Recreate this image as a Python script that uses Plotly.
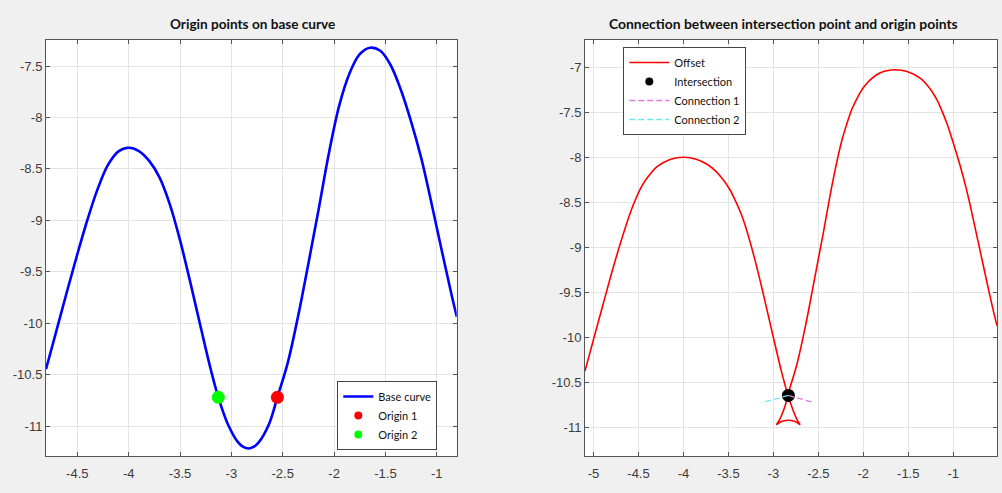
import plotly.graph_objects as go

# ---- base curve samples ----
base_x = [-4.805, -4.7, -4.6, -4.5, -4.4, -4.3, -4.2, -4.1, -4.0, -3.9, -3.8, -3.7,
          -3.6, -3.5, -3.4, -3.3, -3.2, -3.127, -3.034, -2.934, -2.884, -2.834,
          -2.784, -2.734, -2.634, -2.552, -2.45, -2.35, -2.25, -2.15, -2.05, -1.95,
          -1.85, -1.75, -1.649, -1.55, -1.45, -1.35, -1.25, -1.15, -1.05, -0.95,
          -0.85, -0.805]
base_y = [-10.447, -10.059, -9.689, -9.329, -8.989, -8.689, -8.459, -8.329, -8.294,
          -8.326, -8.422, -8.582, -8.842, -9.192, -9.602, -10.032, -10.452, -10.72,
          -10.981, -11.158, -11.202, -11.217, -11.202, -11.158, -10.981, -10.72,
          -10.38, -9.929, -9.418, -8.892, -8.345, -7.884, -7.572, -7.385, -7.322,
          -7.352, -7.49, -7.73, -8.04, -8.40, -8.84, -9.30, -9.75, -9.937]

# ---- origin points on the base curve ----
origin1 = (-2.552, -10.72)
origin2 = (-3.127, -10.72)

# ---- offset curve, in three pieces split at the swallowtail cusps ----
offA_x = [-5.095, -4.990, -4.889, -4.789, -4.686, -4.581, -4.525, -4.462, -4.388,
          -4.290, -4.149, -4.000, -3.858, -3.738, -3.642, -3.564, -3.490, -3.427,
          -3.369, -3.315, -3.210, -3.108, -3.008, -2.909, -2.838, -2.797, -2.758,
          -2.723, -2.703]
offA_y = [-10.369, -9.981, -9.610, -9.247, -8.900, -8.583, -8.445, -8.313, -8.204,
          -8.097, -8.019, -7.994, -8.016, -8.073, -8.149, -8.237, -8.345, -8.468,
          -8.598, -8.748, -9.116, -9.532, -9.963, -10.379, -10.638, -10.762, -10.864,
          -10.936, -10.966]
offB_x = [-2.703, -2.732, -2.774, -2.834, -2.894, -2.936, -2.965]
offB_y = [-10.966, -10.944, -10.925, -10.917, -10.925, -10.944, -10.966]
offC_x = [-2.965, -2.945, -2.910, -2.871, -2.839, -2.741, -2.643, -2.545, -2.445,
          -2.344, -2.240, -2.185, -2.128, -2.065, -1.984, -1.860, -1.767, -1.649,
          -1.514, -1.360, -1.257, -1.185, -1.123, -1.067, -1.014, -0.963, -0.911,
          -0.859, -0.808, -0.757, -0.707, -0.657, -0.607, -0.558, -0.513]
offC_y = [-10.966, -10.936, -10.864, -10.762, -10.633, -10.305, -9.868, -9.361, -8.837,
          -8.287, -7.815, -7.630, -7.465, -7.331, -7.200, -7.084, -7.040, -7.022,
          -7.041, -7.120, -7.234, -7.350, -7.485, -7.629, -7.788, -7.953, -8.130,
          -8.327, -8.543, -8.776, -9.006, -9.236, -9.465, -9.682, -9.867]

intersection = (-2.833, -10.641)

# ---- ticks ----
left_xticks = [-4.5, -4, -3.5, -3, -2.5, -2, -1.5, -1]
left_xlabels = ["-4.5", "-4", "-3.5", "-3", "-2.5", "-2", "-1.5", "-1"]
left_yticks = [-11, -10.5, -10, -9.5, -9, -8.5, -8, -7.5]
left_ylabels = ["-11", "-10.5", "-10", "-9.5", "-9", "-8.5", "-8", "-7.5"]
right_xticks = [-5, -4.5, -4, -3.5, -3, -2.5, -2, -1.5, -1]
right_xlabels = ["-5", "-4.5", "-4", "-3.5", "-3", "-2.5", "-2", "-1.5", "-1"]
right_yticks = [-11, -10.5, -10, -9.5, -9, -8.5, -8, -7.5, -7]
right_ylabels = ["-11", "-10.5", "-10", "-9.5", "-9", "-8.5", "-8", "-7.5", "-7"]

TXT = "Lato"
TICKFONT = dict(family="Liberation Sans, Arial", size=13, color="#3c3c3c")
AXCOL = "#555555"
GRIDCOL = "#e3e3e3"
BLUE, RED, GREEN, BLACK = "#0000ff", "#ff0000", "#00ff00", "#000000"
MAG, CYAN = "#e07ae0", "#70e4ee"
DASH = "6px,3px"

fig = go.Figure()

# ---- left panel ----
fig.add_trace(go.Scatter(x=base_x, y=base_y, mode="lines", name="Base curve",
                         line=dict(color=BLUE, width=2.6, shape="spline", smoothing=1),
                         xaxis="x", yaxis="y", legend="legend"))
fig.add_trace(go.Scatter(x=[origin1[0]], y=[origin1[1]], mode="markers", name="Origin 1",
                         marker=dict(color=RED, size=13), showlegend=False,
                         xaxis="x", yaxis="y"))
fig.add_trace(go.Scatter(x=[origin2[0]], y=[origin2[1]], mode="markers", name="Origin 2",
                         marker=dict(color=GREEN, size=13), showlegend=False,
                         xaxis="x", yaxis="y"))
# legend keys with smaller symbols
for nm, col in (("Origin 1", RED), ("Origin 2", GREEN)):
    fig.add_trace(go.Scatter(x=[None], y=[None], mode="markers", name=nm,
                             marker=dict(color=col, size=8),
                             xaxis="x", yaxis="y", legend="legend"))

# ---- right panel ----
red_line = dict(color=RED, width=1.6, shape="spline", smoothing=1)
for i, (ox, oy) in enumerate(((offA_x, offA_y), (offB_x, offB_y), (offC_x, offC_y))):
    fig.add_trace(go.Scatter(x=ox, y=oy, mode="lines", name="Offset", line=red_line,
                             xaxis="x2", yaxis="y2", legend="legend2", legendgroup="off",
                             showlegend=(i == 0)))
fig.add_trace(go.Scatter(x=[intersection[0]], y=[intersection[1]], mode="markers",
                         name="Intersection", marker=dict(color=BLACK, size=13),
                         showlegend=False, xaxis="x2", yaxis="y2"))
fig.add_trace(go.Scatter(x=[None], y=[None], mode="markers", name="Intersection",
                         marker=dict(color=BLACK, size=8),
                         xaxis="x2", yaxis="y2", legend="legend2"))
fig.add_trace(go.Scatter(x=[intersection[0], origin1[0]], y=[intersection[1], origin1[1]],
                         mode="lines", name="Connection 1",
                         line=dict(color=MAG, width=1.3, dash=DASH),
                         xaxis="x2", yaxis="y2", legend="legend2"))
fig.add_trace(go.Scatter(x=[intersection[0], origin2[0]], y=[intersection[1], origin2[1]],
                         mode="lines", name="Connection 2",
                         line=dict(color=CYAN, width=1.3, dash=DASH),
                         xaxis="x2", yaxis="y2", legend="legend2"))


def axis_style(domain, rng, tickvals, ticktext, anchor, standoff):
    return dict(domain=domain, range=rng, tickvals=tickvals, ticktext=ticktext,
                anchor=anchor, showline=True, linecolor=AXCOL, linewidth=1,
                mirror="allticks", ticks="inside", ticklen=4, tickcolor=AXCOL,
                showgrid=True, gridcolor=GRIDCOL, gridwidth=1, zeroline=False,
                tickfont=TICKFONT, ticklabelstandoff=standoff)


W, H = 1002, 493
ML, MR, MT, MB = 46, 5, 40, 37
pw = W - ML - MR
ph = H - MT - MB


def px_x(p):
    return (p - ML) / pw


def px_y(p):
    return (H - MB - p) / ph


legend_common = dict(xanchor="left", bgcolor="#ffffff", bordercolor="#444444",
                     borderwidth=1, font=dict(family=TXT, size=11, color="#111111"),
                     tracegroupgap=0)

fig.update_layout(
    width=W, height=H,
    margin=dict(l=ML, r=MR, t=MT, b=MB),
    paper_bgcolor="#f0f0f0", plot_bgcolor="#ffffff",
    xaxis=axis_style([0, px_x(456.7)], [-4.805, -0.806], left_xticks, left_xlabels, "y", 5),
    yaxis=axis_style([0, 1], [-11.29, -7.247], left_yticks, left_ylabels, "x", 0),
    xaxis2=axis_style([px_x(585), 1], [-5.095, -0.513], right_xticks, right_xlabels, "y2", 5),
    yaxis2=axis_style([0, 1], [-11.314, -6.692], right_yticks, right_ylabels, "x2", 0),
    legend=dict(x=px_x(337.3), y=px_y(450), yanchor="bottom", itemwidth=30,
                **legend_common),
    legend2=dict(x=px_x(623.3), y=px_y(91), yanchor="middle", itemwidth=40,
                 **legend_common),
    showlegend=True,
)

fig.add_annotation(text="<b>Origin points on base curve</b>", x=px_x(252), y=px_y(24),
                   xref="paper", yref="paper", xanchor="center", yanchor="middle",
                   showarrow=False, font=dict(family=TXT, size=13.6, color="#111111"))
fig.add_annotation(text="<b>Connection between intersection point and origin points</b>",
                   x=px_x(783), y=px_y(24), xref="paper", yref="paper",
                   xanchor="center", yanchor="middle", showarrow=False,
                   font=dict(family=TXT, size=13.9, color="#111111"))

fig.write_html("out.html")
